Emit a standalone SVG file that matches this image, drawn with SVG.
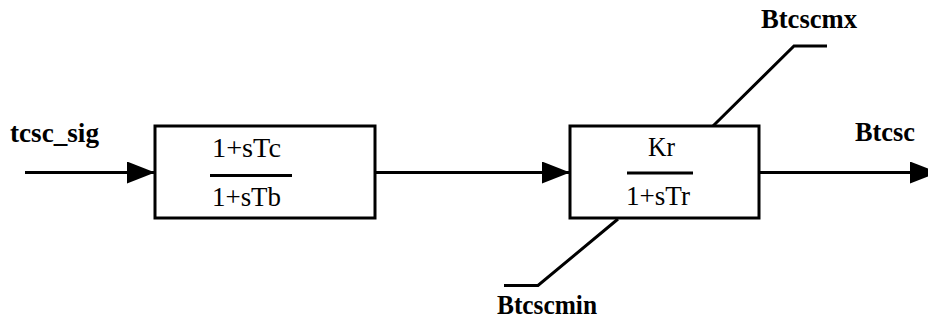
<svg xmlns="http://www.w3.org/2000/svg" width="928" height="320" viewBox="0 0 928 320">
<defs>
<style>
.box{fill:#fff;stroke:#000;stroke-width:3}
.ln{fill:none;stroke:#000;stroke-width:3}
.bar{stroke:#000;stroke-width:3}
text{font-family:'Liberation Serif','Times New Roman',serif;fill:#000}
.t{font-size:27px}
.lb{font-size:27px;font-weight:bold}
</style>
<marker id="arr" markerUnits="userSpaceOnUse" markerWidth="28" markerHeight="22" refX="28" refY="11" orient="auto">
<path d="M0,0 L28,11 L0,22 z" fill="#000"/>
</marker>
</defs>
<g id="connectors">
<line class="ln" x1="25" y1="172.5" x2="155" y2="172.5" marker-end="url(#arr)"/>
<line class="ln" x1="375" y1="172.5" x2="570" y2="172.5" marker-end="url(#arr)"/>
<line class="ln" x1="759" y1="172.5" x2="938" y2="172.5" marker-end="url(#arr)"/>
<polyline class="ln" points="713,126 794,46 827,46"/>
<polyline class="ln" points="618,219 538,285.5 504,285.5"/>
</g>
<g id="lead-lag">
<rect class="box" x="155" y="126" width="220" height="92"/>
<text class="t" x="212" y="157" textLength="69" lengthAdjust="spacingAndGlyphs">1+sTc</text>
<line class="bar" x1="210" y1="175.5" x2="292" y2="175.5"/>
<text class="t" x="212" y="206" textLength="69" lengthAdjust="spacingAndGlyphs">1+sTb</text>
</g>
<g id="lag">
<rect class="box" x="570" y="126" width="189" height="92"/>
<text class="t" x="648" y="156" textLength="27" lengthAdjust="spacingAndGlyphs">Kr</text>
<line class="bar" x1="627" y1="173" x2="693" y2="173"/>
<text class="t" x="626" y="205" textLength="64" lengthAdjust="spacingAndGlyphs">1+sTr</text>
</g>
<g id="labels">
<text class="lb" x="10" y="142" textLength="89" lengthAdjust="spacingAndGlyphs">tcsc_sig</text>
<text class="lb" x="761" y="28" textLength="96" lengthAdjust="spacingAndGlyphs">Btcscmx</text>
<text class="lb" x="855" y="141" textLength="60" lengthAdjust="spacingAndGlyphs">Btcsc</text>
<text class="lb" x="497" y="314" textLength="100" lengthAdjust="spacingAndGlyphs">Btcscmin</text>
</g>
</svg>
